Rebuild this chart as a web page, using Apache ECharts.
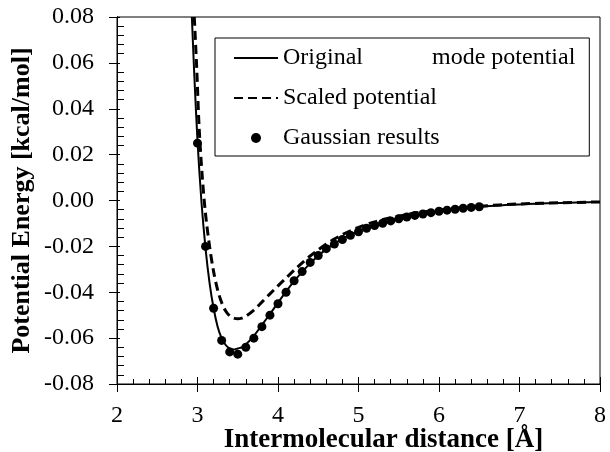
<!DOCTYPE html>
<html>
<head>
<meta charset="utf-8">
<script src="https://cdn.jsdelivr.net/npm/echarts@6/dist/echarts.min.js"></script>
<style>
  html, body { margin: 0; padding: 0; background: #fff; }
  #chart { width: 610px; height: 452px; }
</style>
</head>
<body>
<div id="chart"></div>
<script>
// Intermolecular distance (Å) and potential energy (kcal/mol)
const originalX = [2.93, 2.96, 3.00, 3.05, 3.10, 3.15, 3.20, 3.25, 3.30, 3.35, 3.40, 3.45, 3.50, 3.55, 3.60, 3.70, 3.80, 3.90, 4.00, 4.10, 4.20, 4.30, 4.40, 4.50, 4.60, 4.70, 4.80, 4.90, 5.00, 5.20, 5.40, 5.60, 5.80, 6.00, 6.50, 7.00, 7.50, 8.00];
const originalY = [0.080, 0.055, 0.026, -0.001, -0.021, -0.036, -0.047, -0.055, -0.060, -0.063, -0.0645, -0.065, -0.0645, -0.0640, -0.0628, -0.0590, -0.0543, -0.0495, -0.0445, -0.0397, -0.0352, -0.0311, -0.0274, -0.0241, -0.0212, -0.0188, -0.0167, -0.0149, -0.0133, -0.0106, -0.0086, -0.0070, -0.0057, -0.0047, -0.0027, -0.0017, -0.0011, -0.0007];

const scaledX = [2.96, 2.99, 3.02, 3.06, 3.10, 3.15, 3.20, 3.25, 3.30, 3.35, 3.40, 3.45, 3.50, 3.55, 3.60, 3.70, 3.80, 3.90, 4.00, 4.10, 4.20, 4.30, 4.40, 4.50, 4.60, 4.70, 4.80, 4.90, 5.00, 5.20, 5.40, 5.60, 5.80, 6.00, 6.50, 7.00, 7.50, 8.00];
const scaledY = [0.080, 0.058, 0.032, 0.010, -0.006, -0.020, -0.031, -0.039, -0.0445, -0.0482, -0.0503, -0.0513, -0.0516, -0.0513, -0.0505, -0.0478, -0.0443, -0.0407, -0.0372, -0.0338, -0.0304, -0.0272, -0.0242, -0.0215, -0.0190, -0.0168, -0.0149, -0.0132, -0.0117, -0.0093, -0.0075, -0.0061, -0.0050, -0.0041, -0.0025, -0.0015, -0.0010, -0.0006];

const gaussianX = [3.0, 3.1, 3.2, 3.3, 3.4, 3.5, 3.6, 3.7, 3.8, 3.9, 4.0, 4.1, 4.2, 4.3, 4.4, 4.5, 4.6, 4.7, 4.8, 4.9, 5.0, 5.1, 5.2, 5.3, 5.4, 5.5, 5.6, 5.7, 5.8, 5.9, 6.0, 6.1, 6.2, 6.3, 6.4, 6.5];
const gaussianY = [0.025, -0.020, -0.047, -0.061, -0.066, -0.067, -0.064, -0.060, -0.055, -0.050, -0.045, -0.040, -0.035, -0.031, -0.027, -0.024, -0.021, -0.019, -0.0170, -0.0152, -0.0136, -0.0121, -0.0109, -0.0099, -0.0089, -0.0080, -0.0072, -0.0065, -0.0059, -0.0053, -0.0047, -0.0042, -0.0038, -0.0034, -0.0030, -0.0027];

const seriesNames = ['Original mode potential', 'Scaled potential', 'Gaussian results'];
const xTicks = { min: 2, max: 8, interval: 1 };
const yTicks = { min: -0.08, max: 0.08, interval: 0.02 };
const xTitle = 'Intermolecular distance [Å]';
const yTitle = 'Potential Energy [kcal/mol]';

const pairs = (xs, ys) => xs.map((x, i) => [x, ys[i]]);

const FONT = '"Liberation Serif", "Times New Roman", serif';
const chart = echarts.init(document.getElementById('chart'), null, { renderer: 'canvas' });

const baseAxis = {
  type: 'value',
  splitLine: { show: false },
  axisLine: { show: true, onZero: false, lineStyle: { color: '#000', width: 1 } }
};

// line entries in the legend show only the stroke, no marker
const noMarker = { color: 'transparent', borderWidth: 0, opacity: 0 };

chart.setOption({
  animation: false,
  backgroundColor: '#fff',
  grid: {
    left: 117, right: 10, top: 17, bottom: 68,
    outerBoundsMode: 'none', containLabel: false,
    show: true, borderColor: '#000', borderWidth: 1, backgroundColor: 'transparent'
  },
  legend: {
    left: 215, top: 38,
    orient: 'vertical',
    padding: [8, 14, 6, 18],
    borderColor: '#000', borderWidth: 1,
    itemWidth: 44, itemHeight: 10, itemGap: 16,
    data: [
      { name: seriesNames[0], itemStyle: noMarker },
      { name: seriesNames[1], itemStyle: noMarker },
      { name: seriesNames[2] }
    ],
    formatter: function (name) {
      if (name === seriesNames[0]) return '{a|Original}{b|mode potential}';
      return name;
    },
    textStyle: {
      fontFamily: FONT, fontSize: 24, color: '#000', lineHeight: 24,
      rich: {
        a: { fontFamily: FONT, fontSize: 24, color: '#000', width: 149 },
        b: { fontFamily: FONT, fontSize: 24, color: '#000' }
      }
    }
  },
  xAxis: [
    Object.assign({}, baseAxis, {
      min: xTicks.min, max: xTicks.max, interval: xTicks.interval,
      axisTick: { show: true, inside: true, length: 7, lineStyle: { color: '#000' } },
      minorTick: { show: true, splitNumber: 5, length: 5, lineStyle: { color: '#000' } },
      axisLabel: { show: false }
    }),
    Object.assign({}, baseAxis, {
      min: xTicks.min, max: xTicks.max, interval: xTicks.interval,
      position: 'bottom',
      axisTick: { show: true, inside: false, length: 8, lineStyle: { color: '#000' } },
      axisLabel: { show: true, margin: 20, color: '#000', fontFamily: FONT, fontSize: 24 },
      name: xTitle, nameLocation: 'middle', nameGap: 43, nameMoveOverlap: false,
      nameTextStyle: { fontFamily: FONT, fontSize: 27, fontWeight: 'bold', color: '#000', padding: [0, 0, 0, 50] }
    })
  ],
  yAxis: [
    Object.assign({}, baseAxis, {
      min: yTicks.min, max: yTicks.max, interval: yTicks.interval,
      axisTick: { show: true, inside: true, length: 3, lineStyle: { color: '#000' } },
      minorTick: { show: true, splitNumber: 5, length: 7, lineStyle: { color: '#000' } },
      axisLabel: { show: false }
    }),
    Object.assign({}, baseAxis, {
      min: yTicks.min, max: yTicks.max, interval: yTicks.interval,
      position: 'left',
      axisTick: { show: true, inside: false, length: 8, lineStyle: { color: '#000' } },
      axisLabel: { show: true, margin: 23, color: '#000', fontFamily: FONT, fontSize: 24,
        formatter: v => v.toFixed(2) },
      name: yTitle, nameLocation: 'middle', nameGap: 82, nameRotate: 90, nameMoveOverlap: false,
      nameTextStyle: { fontFamily: FONT, fontSize: 26, fontWeight: 'bold', color: '#000' }
    })
  ],
  series: [
    {
      name: seriesNames[0], type: 'line', xAxisIndex: 0, yAxisIndex: 0,
      data: pairs(originalX, originalY), smooth: 0.3, symbol: 'none', showSymbol: false,
      lineStyle: { color: '#000', width: 2, type: 'solid' }, itemStyle: { color: '#000' }, z: 3
    },
    {
      name: seriesNames[1], type: 'line', xAxisIndex: 0, yAxisIndex: 0,
      data: pairs(scaledX, scaledY), smooth: 0.3, symbol: 'none', showSymbol: false,
      lineStyle: { color: '#000', width: 3, type: [9, 5] }, itemStyle: { color: '#000' }, z: 3
    },
    {
      name: seriesNames[2], type: 'scatter', xAxisIndex: 0, yAxisIndex: 0,
      data: pairs(gaussianX, gaussianY), symbol: 'circle', symbolSize: 9,
      itemStyle: { color: '#000', opacity: 1 }, z: 4
    }
  ]
});
</script>
</body>
</html>
